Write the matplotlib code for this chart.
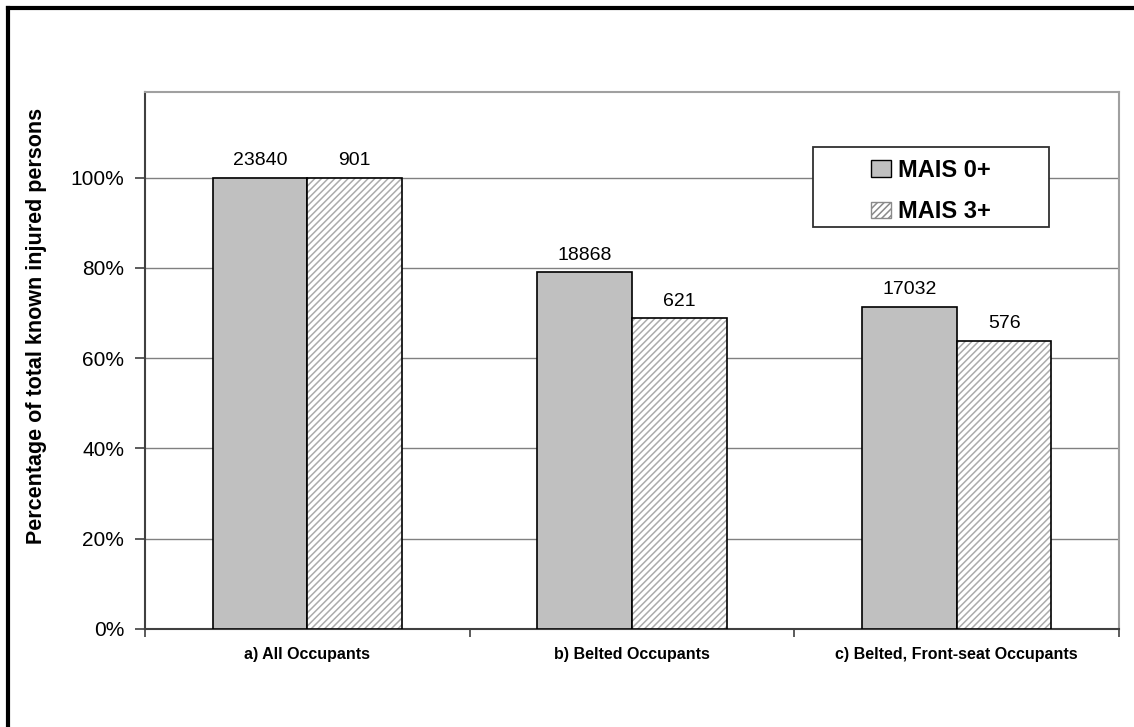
import matplotlib
matplotlib.use("Agg")
import matplotlib.pyplot as plt
from matplotlib.patches import Rectangle
from matplotlib.lines import Line2D
from matplotlib.ticker import PercentFormatter
import numpy as np

categories = ["a) All Occupants", "b) Belted Occupants", "c) Belted, Front-seat Occupants"]
series_names = ["MAIS 0+", "MAIS 3+"]
mais0_pct = [100.0, 79.1, 71.4]
mais3_pct = [100.0, 68.9, 63.9]
mais0_counts = [23840, 18868, 17032]
mais3_counts = [901, 621, 576]
yticks = [0, 20, 40, 60, 80, 100]
ylabel = "Percentage of total known injured persons"

plt.rcParams['font.family'] = ['Liberation Sans', 'DejaVu Sans']
plt.rcParams['hatch.linewidth'] = 1.1

W, H = 1134, 727
fig = plt.figure(figsize=(W / 100, H / 100), dpi=100)
fig.patch.set_facecolor('white')

def fx(px):
    return px / W

def fy(py):
    return 1 - py / H

left, right, top, bottom = 145, 1119, 92, 629
ax = fig.add_axes([fx(left), fy(bottom), fx(right) - fx(left), fy(top) - fy(bottom)])

x = np.arange(len(categories))
bw = 0.292
hatch_col = '#ababab'
b0 = ax.bar(x - bw / 2, mais0_pct, bw, color='#c0c0c0', edgecolor='black', linewidth=1.2,
            label=series_names[0], zorder=3)
# hatched fill (hatch takes the edge colour) and a black outline on top
b1 = ax.bar(x + bw / 2, mais3_pct, bw, facecolor='white', edgecolor=hatch_col, linewidth=0,
            hatch='/////', label=series_names[1], zorder=3)
ax.bar(x + bw / 2, mais3_pct, bw, fill=False, edgecolor='black', linewidth=1.2, zorder=4)

for bars, counts in ((b0, mais0_counts), (b1, mais3_counts)):
    for rect, c in zip(bars, counts):
        ax.annotate(str(c), (rect.get_x() + rect.get_width() / 2, rect.get_height()),
                    xytext=(0, 6), textcoords='offset points', ha='center', va='bottom',
                    fontsize=14, color='black')

ax.set_xlim(-0.5, len(categories) - 0.5)
ax.set_ylim(0, 119)
ax.set_yticks(yticks)
ax.yaxis.set_major_formatter(PercentFormatter(decimals=0))
ax.grid(axis='y', color='#808080', linewidth=1.0, zorder=0)
ax.set_axisbelow(True)

ax.set_xticks(x)
ax.set_xticklabels(categories, fontsize=11.5, fontweight='bold')
ax.set_xticks(np.arange(len(categories) + 1) - 0.5, minor=True)
ax.tick_params(axis='x', which='major', length=0, pad=13)
ax.tick_params(axis='x', which='minor', length=6, width=1.2, color='#404040', direction='out')
ax.tick_params(axis='y', length=7, width=1.2, color='#404040', direction='out', pad=8, labelsize=15)

for s in ('left', 'bottom'):
    ax.spines[s].set_color('#404040')
    ax.spines[s].set_linewidth(1.5)
for s in ('top', 'right'):
    ax.spines[s].set_color('#a0a0a0')
    ax.spines[s].set_linewidth(1.5)

fig.text(fx(37), fy(326), ylabel, rotation=90, ha='center', va='center',
         fontsize=15.5, fontweight='bold')

# legend frame
lx0, ly0, lx1, ly1 = 813, 147, 1049, 227
fig.patches.append(Rectangle((fx(lx0), fy(ly1)), fx(lx1) - fx(lx0), fy(ly0) - fy(ly1),
                             transform=fig.transFigure, facecolor='white', edgecolor='#303030',
                             linewidth=1.3, zorder=5))
leg = fig.legend(handles=[b0, b1], labels=series_names, loc='center',
                 bbox_to_anchor=(fx(931), fy(191)), frameon=False,
                 prop={'size': 17, 'weight': 'bold'}, handlelength=0.85, handleheight=0.7,
                 handletextpad=0.3, labelspacing=0.8)
leg.set_zorder(6)
for h in leg.legend_handles:
    h.set_linewidth(1.0)
leg.legend_handles[0].set_edgecolor('black')
leg.legend_handles[1].set_edgecolor('#8a8a8a')

# figure border (top and left only, as in cropped source)
fig.add_artist(Line2D([fx(8), fx(W)], [fy(8), fy(8)], color='black', linewidth=3,
                      transform=fig.transFigure))
fig.add_artist(Line2D([fx(8), fx(8)], [fy(8), fy(H)], color='black', linewidth=3,
                      transform=fig.transFigure))

fig.savefig('out.png', dpi=100)
